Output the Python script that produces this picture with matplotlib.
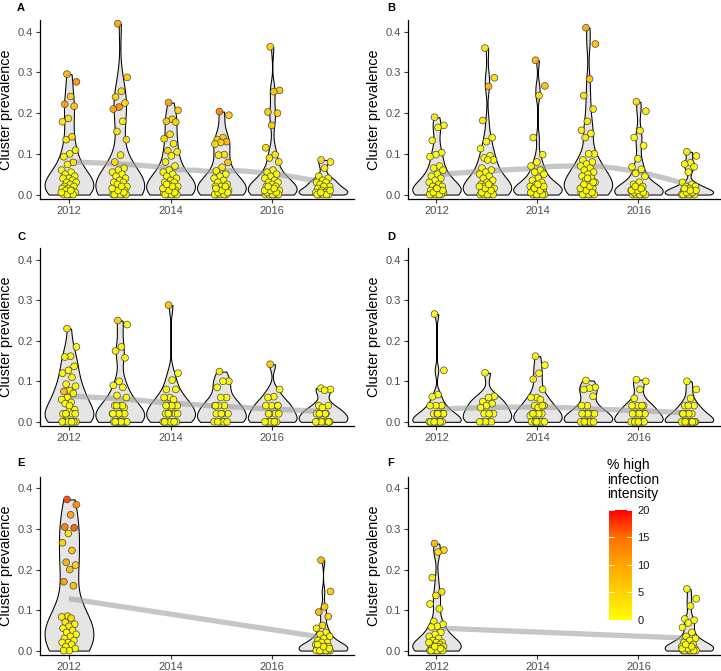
import numpy as np
import matplotlib
matplotlib.use("Agg")
from matplotlib import pyplot as plt
from matplotlib.colors import LinearSegmentedColormap, Normalize
from matplotlib.cm import ScalarMappable

plt.rcParams['font.family'] = ['Liberation Sans', 'DejaVu Sans']

YEARS_TICKS = [2012, 2014, 2016]
Y_TICKS = [0.0, 0.1, 0.2, 0.3, 0.4]
CBAR_TICKS = [0, 5, 10, 15, 20]
LEGEND_TITLE = "% high\ninfection\nintensity"
Y_LABEL = "Cluster prevalence"

# cluster prevalence per year, and % high infection intensity of each cluster
A_prev = {
    2012: [0.296, 0.277, 0.241, 0.222, 0.217, 0.187, 0.179, 0.142, 0.135, 0.109, 0.100, 0.093, 0.079, 0.074,
           0.060, 0.055, 0.050, 0.045, 0.040, 0.040, 0.035, 0.030, 0.030, 0.025, 0.020, 0.020, 0.015, 0.015,
           0.010, 0.010, 0.005, 0.0, 0.0, 0.0, 0.0, 0.005, 0.010],
    2013: [0.420, 0.288, 0.254, 0.240, 0.225, 0.215, 0.210, 0.180, 0.155, 0.135, 0.097, 0.080, 0.065, 0.060,
           0.055, 0.050, 0.045, 0.040, 0.035, 0.030, 0.030, 0.025, 0.020, 0.015, 0.010, 0.010, 0.005, 0.0,
           0.0, 0.0, 0.0, 0.0, 0.0, 0.005, 0.010, 0.015, 0.020],
    2014: [0.226, 0.207, 0.185, 0.180, 0.178, 0.148, 0.137, 0.125, 0.108, 0.105, 0.095, 0.080, 0.070, 0.060,
           0.055, 0.050, 0.045, 0.040, 0.035, 0.030, 0.030, 0.025, 0.020, 0.015, 0.010, 0.010, 0.005, 0.005,
           0.0, 0.0, 0.0, 0.0, 0.0, 0.005, 0.010, 0.015, 0.020, 0.025],
    2015: [0.204, 0.195, 0.140, 0.135, 0.130, 0.128, 0.124, 0.098, 0.097, 0.079, 0.067, 0.058, 0.050, 0.045,
           0.040, 0.035, 0.030, 0.025, 0.020, 0.020, 0.015, 0.010, 0.010, 0.005, 0.0, 0.0,
           0.0, 0.0, 0.0, 0.005, 0.005, 0.010, 0.015, 0.020],
    2016: [0.363, 0.256, 0.253, 0.203, 0.200, 0.170, 0.115, 0.098, 0.090, 0.080, 0.060, 0.055, 0.050, 0.045,
           0.040, 0.035, 0.030, 0.030, 0.025, 0.020, 0.020, 0.015, 0.010, 0.010, 0.005, 0.0, 0.0, 0.0,
           0.0, 0.0, 0.0, 0.0, 0.005, 0.005, 0.010, 0.010, 0.015, 0.020],
    2017: [0.085, 0.080, 0.065, 0.045, 0.040, 0.035, 0.030, 0.030, 0.025, 0.020, 0.020, 0.015, 0.010, 0.010,
           0.005, 0.005, 0.0, 0.0, 0.0, 0.0, 0.0, 0.005, 0.010],
}
A_int = {
    2012: [8, 12, 5, 10, 6, 4, 3, 4, 3, 2, 1, 1, 3, 1] + [0] * 23,
    2013: [10, 6, 4, 5, 4, 12, 10, 2, 3, 4, 2, 3, 1, 1, 1] + [0] * 22,
    2014: [10, 6, 5, 6, 5, 3, 4, 2, 5, 2, 1, 2, 1] + [0] * 25,
    2015: [13, 6, 6, 5, 8, 5, 4, 3, 2, 7, 2, 1] + [0] * 22,
    2016: [5, 7, 6, 6, 6, 5, 4, 3, 3, 3, 1, 1] + [0] * 26,
    2017: [4, 2, 2] + [0] * 20,
}

B_prev = {
    2012: [0.190, 0.170, 0.165, 0.133, 0.103, 0.098, 0.093, 0.070, 0.065, 0.060, 0.050, 0.045, 0.040, 0.035,
           0.030, 0.025, 0.020, 0.020, 0.015, 0.010, 0.010, 0.005, 0.005, 0.0, 0.0, 0.0, 0.0,
           0.0, 0.0, 0.005, 0.010, 0.015],
    2013: [0.360, 0.287, 0.266, 0.182, 0.140, 0.130, 0.113, 0.095, 0.090, 0.085, 0.085, 0.065, 0.060, 0.055,
           0.050, 0.045, 0.040, 0.035, 0.030, 0.025, 0.020, 0.020, 0.015, 0.010, 0.010, 0.005, 0.0, 0.0, 0.0,
           0.0, 0.0, 0.0, 0.005, 0.010, 0.015, 0.020, 0.025],
    2014: [0.330, 0.267, 0.243, 0.140, 0.098, 0.080, 0.070, 0.060, 0.055, 0.050, 0.040, 0.035, 0.030, 0.025,
           0.020, 0.020, 0.015, 0.010, 0.010, 0.005, 0.005, 0.0, 0.0, 0.0,
           0.0, 0.0, 0.0, 0.005, 0.010, 0.015, 0.020, 0.025],
    2015: [0.410, 0.370, 0.284, 0.243, 0.210, 0.180, 0.158, 0.150, 0.140, 0.100, 0.100, 0.085, 0.080, 0.075,
           0.070, 0.065, 0.060, 0.055, 0.050, 0.045, 0.040, 0.035, 0.030, 0.025, 0.020, 0.015, 0.010, 0.005,
           0.0, 0.0, 0.0, 0.0, 0.0, 0.005, 0.010, 0.015, 0.020, 0.025, 0.030, 0.040],
    2016: [0.228, 0.205, 0.157, 0.140, 0.120, 0.088, 0.068, 0.062, 0.052, 0.045, 0.030, 0.025, 0.020, 0.015,
           0.010, 0.010, 0.005, 0.0, 0.0, 0.0, 0.0, 0.0, 0.0, 0.0, 0.005, 0.005, 0.010, 0.010, 0.015, 0.020],
    2017: [0.105, 0.095, 0.078, 0.075, 0.068, 0.055, 0.030, 0.025, 0.020, 0.020, 0.015, 0.010, 0.005, 0.005,
           0.0, 0.0, 0.0, 0.0, 0.0, 0.0, 0.005, 0.005, 0.010, 0.010, 0.015],
}
B_int = {
    2012: [2, 1, 1, 1] + [0] * 28,
    2013: [3, 4, 8, 3, 1, 1] + [0] * 31,
    2014: [8, 7, 3, 2, 1] + [0] * 27,
    2015: [9, 7, 6, 4, 3, 3, 2, 1, 2] + [0] * 31,
    2016: [3, 2, 1] + [0] * 27,
    2017: [2, 1] + [0] * 23,
}

C_prev = {
    2012: [0.230, 0.185, 0.162, 0.160, 0.137, 0.127, 0.120, 0.110, 0.093, 0.088, 0.077, 0.075, 0.070, 0.060,
           0.055, 0.048, 0.045, 0.030, 0.025, 0.020, 0.020, 0.005, 0.0, 0.0, 0.0,
           0.0, 0.0, 0.0, 0.0, 0.020, 0.020, 0.040],
    2013: [0.250, 0.240, 0.185, 0.175, 0.158, 0.100, 0.090, 0.085, 0.065, 0.060, 0.040, 0.040, 0.035, 0.020,
           0.020, 0.020, 0.0, 0.0, 0.0, 0.0, 0.0, 0.0, 0.0, 0.0, 0.0, 0.020, 0.020, 0.020, 0.040, 0.040],
    2014: [0.288, 0.120, 0.103, 0.080, 0.080, 0.060, 0.060, 0.055, 0.040, 0.040, 0.035, 0.020, 0.020, 0.020,
           0.0, 0.0, 0.0, 0.0, 0.0, 0.0, 0.0, 0.020, 0.020, 0.040, 0.040],
    2015: [0.124, 0.100, 0.100, 0.085, 0.060, 0.060, 0.040, 0.040, 0.040, 0.020, 0.020, 0.020, 0.0, 0.0, 0.0,
           0.0, 0.0, 0.0, 0.020, 0.040],
    2016: [0.142, 0.080, 0.062, 0.060, 0.040, 0.040, 0.040, 0.020, 0.020, 0.020, 0.0, 0.0, 0.0, 0.0, 0.0,
           0.0, 0.020, 0.040],
    2017: [0.083, 0.080, 0.078, 0.040, 0.040, 0.035, 0.020, 0.020, 0.020, 0.0, 0.0, 0.0,
           0.0, 0.0, 0.0, 0.020, 0.020, 0.0],
}
C_int = {
    2012: [2, 1, 1, 1, 1, 1, 1, 1, 1, 1, 2, 8, 1] + [0] * 19,
    2013: [5, 1, 1, 1, 1] + [0] * 25,
    2014: [6] + [0] * 24,
    2015: [2, 1] + [0] * 18,
    2016: [5] + [0] * 17,
    2017: [0] * 18,
}

D_prev = {
    2012: [0.266, 0.127, 0.067, 0.062, 0.040, 0.040, 0.040, 0.020, 0.020, 0.020, 0.020, 0.0, 0.0, 0.0, 0.0, 0.0,
           0.0, 0.0, 0.0, 0.0, 0.0, 0.0, 0.020, 0.020],
    2013: [0.121, 0.063, 0.060, 0.050, 0.045, 0.040, 0.035, 0.020, 0.020, 0.020, 0.0, 0.0, 0.0, 0.0,
           0.0, 0.020],
    2014: [0.162, 0.140, 0.120, 0.105, 0.080, 0.060, 0.060, 0.055, 0.040, 0.040, 0.035, 0.020, 0.020, 0.020,
           0.015, 0.0, 0.0, 0.0, 0.0, 0.0, 0.0, 0.0, 0.0, 0.020, 0.020, 0.040, 0.0],
    2015: [0.102, 0.085, 0.083, 0.080, 0.063, 0.040, 0.040, 0.020, 0.020, 0.020, 0.0, 0.0, 0.0, 0.0,
           0.0, 0.0, 0.0, 0.0, 0.020, 0.020],
    2016: [0.104, 0.100, 0.080, 0.058, 0.040, 0.040, 0.040, 0.020, 0.020, 0.020, 0.020, 0.0, 0.0, 0.0, 0.0,
           0.0, 0.0, 0.0, 0.0, 0.020, 0.040],
    2017: [0.100, 0.080, 0.058, 0.040, 0.040, 0.040, 0.020, 0.020, 0.020, 0.0, 0.0, 0.0, 0.0,
           0.0, 0.0, 0.0, 0.0, 0.0, 0.020, 0.020, 0.0],
}
D_int = {
    2012: [1, 1] + [0] * 22,
    2013: [0] * 16,
    2014: [1, 0, 0, 2] + [0] * 23,
    2015: [0] * 20,
    2016: [0] * 21,
    2017: [0] * 21,
}

E_prev = {
    2012: [0.373, 0.360, 0.335, 0.305, 0.303, 0.289, 0.266, 0.247, 0.218, 0.211, 0.200, 0.170, 0.160, 0.085,
           0.083, 0.080, 0.070, 0.065, 0.060, 0.055, 0.050, 0.045, 0.040, 0.035, 0.030, 0.025, 0.020, 0.020,
           0.015, 0.010, 0.005, 0.0, 0.0],
    2017: [0.223, 0.146, 0.108, 0.095, 0.084, 0.062, 0.055, 0.045, 0.040, 0.035, 0.030, 0.025, 0.020, 0.020,
           0.015, 0.010, 0.010, 0.010, 0.005, 0.005, 0.0, 0.0, 0.0, 0.0, 0.0,
           0.0, 0.0, 0.0, 0.0, 0.0, 0.005, 0.010, 0.015],
}
E_int = {
    2012: [17, 12, 10, 14, 16, 3, 5, 7, 9, 5, 7, 11, 7, 3, 2, 4, 2, 1, 2, 1, 1] + [0] * 12,
    2017: [8, 6, 5, 8, 5, 4, 2, 1, 1] + [0] * 24,
}

F_prev = {
    2012: [0.264, 0.248, 0.243, 0.180, 0.145, 0.136, 0.115, 0.103, 0.072, 0.065, 0.060, 0.058, 0.045, 0.040,
           0.035, 0.030, 0.025, 0.020, 0.020, 0.015, 0.015, 0.010, 0.010, 0.010, 0.005, 0.005, 0.0, 0.0, 0.0,
           0.0, 0.0, 0.0, 0.0, 0.005, 0.010, 0.020],
    2017: [0.152, 0.128, 0.110, 0.078, 0.075, 0.068, 0.057, 0.045, 0.035, 0.030, 0.025, 0.020, 0.015, 0.010,
           0.010, 0.010, 0.005, 0.005, 0.0, 0.0, 0.0, 0.0,
           0.0, 0.0, 0.0, 0.0, 0.005, 0.005, 0.010, 0.015],
}
F_int = {
    2012: [8, 5, 3, 2, 4, 2, 1, 1, 1] + [0] * 27,
    2017: [1] + [0] * 29,
}

PANELS = [("A", A_prev, A_int), ("B", B_prev, B_int), ("C", C_prev, C_int),
          ("D", D_prev, D_int), ("E", E_prev, E_int), ("F", F_prev, F_int)]

cmap = LinearSegmentedColormap.from_list(
    "yr", ["#FFFF00", "#FFD200", "#FFA500", "#FF7000", "#FF0000"])
norm = Normalize(0, 20)


def bw_nrd0(x):
    hi = np.std(x, ddof=1)
    iqr = np.subtract(*np.percentile(x, [75, 25]))
    lo = min(hi, iqr / 1.34)
    if lo == 0:
        lo = hi if hi > 0 else 1.0
    return 0.9 * lo * len(x) ** -0.2


def kde(x, grid):
    bw = bw_nrd0(x)
    z = (grid[:, None] - x[None, :]) / bw
    return np.exp(-0.5 * z ** 2).sum(axis=1) / (len(x) * bw * np.sqrt(2 * np.pi))


def loess(x, y, grid, span=0.75):
    # local quadratic fit with tricube weights
    n = len(x)
    q = int(np.floor(n * span))
    out = []
    for g in grid:
        d = np.abs(x - g)
        h = np.sort(d)[q - 1] * 1.2 + 1e-9
        w = np.clip(1 - (d / h) ** 3, 0, 1) ** 3
        deg = min(2, len(np.unique(x[w > 0])) - 1)
        coef = np.polyfit(x - g, y, deg, w=np.sqrt(w))
        out.append(coef[-1])
    return np.array(out)


def jitter(n, width=0.15):
    k = np.arange(n)
    return width * (2 * ((k * 0.6180339887 + 0.37) % 1.0) - 1)


fig = plt.figure(figsize=(7.21, 6.71), dpi=100)

col_left = [40 / 721, 407.7 / 721]
col_w = [314 / 721, 312 / 721]
row_bottom = [0.7034, 0.3647, 0.0238]
row_h = [0.2668, 0.2657, 0.2657]
letter_y = [3, 232, 458]
letter_x = [17, 387]

for idx, (name, prev, inten) in enumerate(PANELS):
    r, c = divmod(idx, 2)
    ax = fig.add_axes([col_left[c], row_bottom[r], col_w[c], row_h[r]])

    years = sorted(prev.keys())
    for yr in years:
        v = np.array(prev[yr], dtype=float)
        assert len(v) == len(inten[yr]), (name, yr, len(v), len(inten[yr]))
        g = np.linspace(v.min(), v.max(), 512)
        d = kde(v, g)
        hw = 0.48 * d / d.max()
        ax.fill_betweenx(g, yr - hw, yr + hw, facecolor="#E5E5E5",
                         edgecolor="black", lw=0.75, zorder=1)

    # smoothed trend
    xs = np.concatenate([[yr] * len(prev[yr]) for yr in years]).astype(float)
    ys = np.concatenate([prev[yr] for yr in years]).astype(float)
    xg = np.linspace(min(years), max(years), 100)
    if len(years) < 3:
        fit = np.polyval(np.polyfit(xs, ys, 1), xg)
    else:
        fit = loess(xs, ys, xg)
    ax.plot(xg, fit, color="#A0A0A0", lw=3.8, alpha=0.6,
            solid_capstyle="butt", zorder=2)

    for yr in years:
        v = np.array(prev[yr], dtype=float)
        col = cmap(norm(np.array(inten[yr], dtype=float)))
        ax.scatter(yr + jitter(len(v)), v, s=24, c=col, edgecolors="#3A3A3A",
                   linewidths=0.5, alpha=0.92, zorder=3)

    ax.set_xlim(2011.43, 2017.61)
    ax.set_ylim(-0.011, 0.429)
    ax.set_xticks(YEARS_TICKS)
    ax.set_yticks(Y_TICKS)
    ax.set_yticklabels([f"{t:.1f}" for t in Y_TICKS])
    for s in ["top", "right"]:
        ax.spines[s].set_visible(False)
    for s in ["left", "bottom"]:
        ax.spines[s].set_linewidth(0.9)
    ax.tick_params(labelsize=8, labelcolor="#4D4D4D", color="#333333",
                   length=3, width=0.8, pad=2)
    ax.set_ylabel(Y_LABEL, fontsize=10.4)
    ax.yaxis.set_label_coords(-0.085, 0.5)

    fig.text(letter_x[c] / 721, 1 - letter_y[r] / 671, name, fontsize=8,
             fontweight="bold", ha="left", va="top")

# colour legend
cax = fig.add_axes([609.3 / 721, 1 - 619.5 / 671, 22.4 / 721, 109.5 / 671])
cb = fig.colorbar(ScalarMappable(norm=norm, cmap=cmap), cax=cax)
cb.outline.set_visible(False)
cb.set_ticks(CBAR_TICKS)
cax.tick_params(length=0, labelsize=8, pad=4, labelcolor="#1A1A1A")
for t in CBAR_TICKS:
    cax.plot([0, 0.2], [t, t], color="white", lw=0.6)
    cax.plot([0.8, 1], [t, t], color="white", lw=0.6)
fig.text(607 / 721, 1 - 458 / 671, LEGEND_TITLE, fontsize=10, ha="left", va="top",
         linespacing=1.05)

fig.savefig("out.png", dpi=100)
